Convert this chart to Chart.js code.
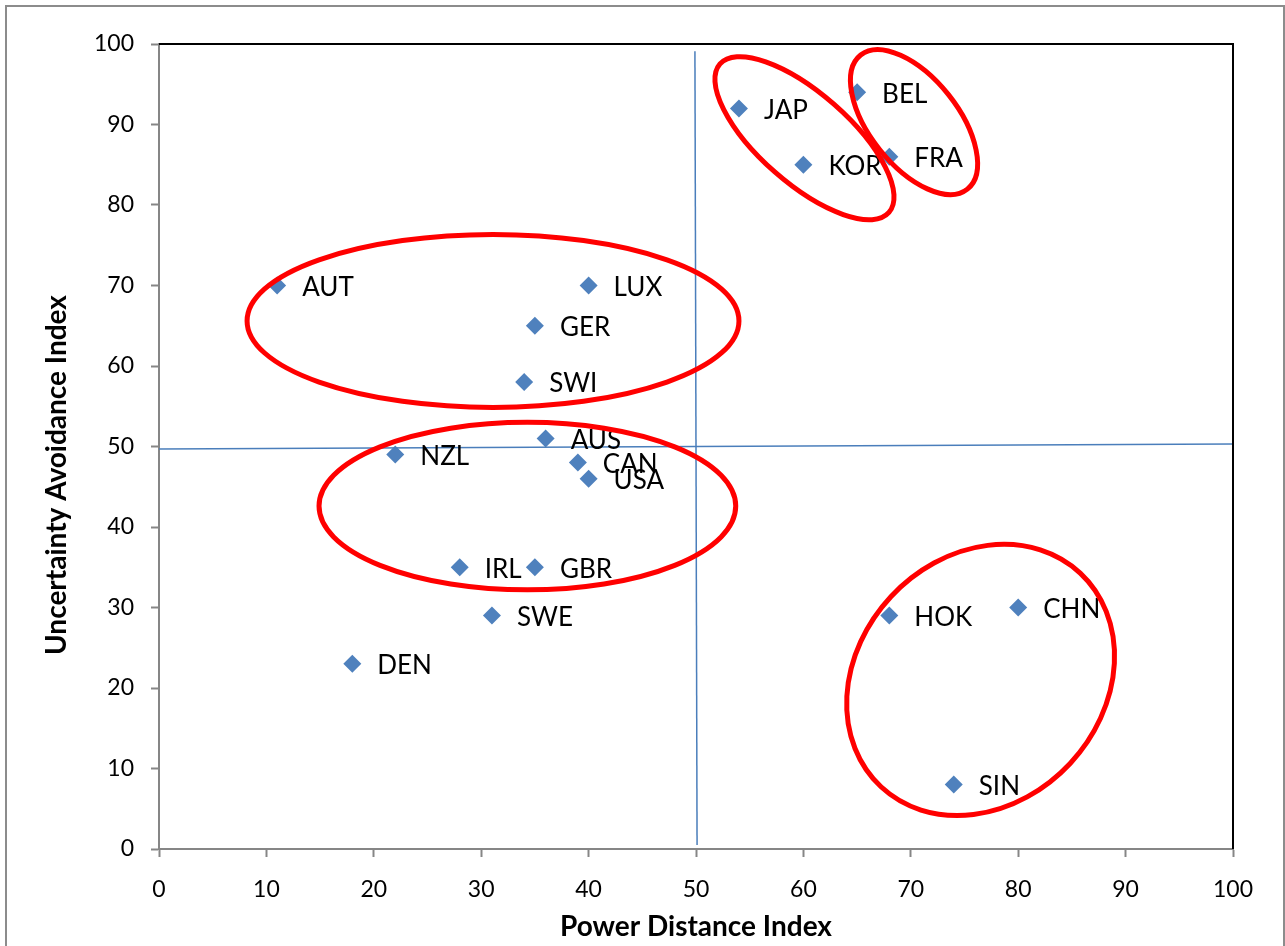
<!DOCTYPE html>
<html>
<head>
<meta charset="utf-8">
<script src="https://cdn.jsdelivr.net/npm/chart.js@4/dist/chart.umd.min.js"></script>
<style>
  html, body { margin: 0; padding: 0; background: #fff; }
  #wrap { width: 1285px; height: 946px; position: relative; }
</style>
</head>
<body>
<div id="wrap"><canvas id="chart"></canvas></div>
<script>
// Countries with Hofstede scores
const countries = ['AUT', 'LUX', 'GER', 'SWI', 'AUS', 'NZL', 'CAN', 'USA', 'IRL', 'GBR',
                   'SWE', 'DEN', 'JAP', 'KOR', 'BEL', 'FRA', 'HOK', 'CHN', 'SIN'];
const powerDistance = [11, 40, 35, 34, 36, 22, 39, 40, 28, 35, 31, 18, 54, 60, 65, 68, 68, 80, 74];
const uncertaintyAvoid = [70, 70, 65, 58, 51, 49, 48, 46, 35, 35, 29, 23, 92, 85, 94, 86, 29, 30, 8];

// Hand drawn divider lines (slightly off straight in the original)
const vLineX = [49.9, 50.1];
const vLineY = [99.1, 0.5];
const hLineX = [0, 100];
const hLineY = [49.7, 50.3];

// Axis ticks
const xTicks = [0, 10, 20, 30, 40, 50, 60, 70, 80, 90, 100];
const yTicks = [0, 10, 20, 30, 40, 50, 60, 70, 80, 90, 100];

// Red group circles: centre in data units, radii in x units, rotation in degrees
const groupCx = [31.1, 34.3, 60.1, 70.3, 76.5];
const groupCy = [65.6, 42.6, 88.3, 90.3, 21.0];
const groupA  = [22.9, 19.4, 10.47, 7.98, 13.6];
const groupB  = [8.05, 7.8, 4.19, 4.1, 11.4];
const groupRot = [0, 0, 41.3, 51.5, -47];

const FONT = 'Lato, "Open Sans", sans-serif';

// Frame, plot border, point labels, ellipses and the y title
const extras = {
  id: 'extras',
  beforeDraw(chart) {
    const ctx = chart.ctx;
    ctx.save();
    ctx.strokeStyle = '#8c8c8c';
    ctx.lineWidth = 2;
    ctx.strokeRect(6, 6, 1278, 960);
    ctx.restore();
  },
  afterDatasetsDraw(chart) {
    const ctx = chart.ctx;
    const a = chart.chartArea;
    const xs = chart.scales.x, ys = chart.scales.y;
    ctx.save();
    // top and right border of plot area
    ctx.strokeStyle = '#000';
    ctx.lineWidth = 2;
    ctx.beginPath();
    ctx.moveTo(a.left, a.top);
    ctx.lineTo(a.right, a.top);
    ctx.lineTo(a.right, a.bottom);
    ctx.stroke();

    // country labels to the right of each point
    const meta = chart.getDatasetMeta(2);
    ctx.fillStyle = '#000';
    ctx.font = '26px ' + FONT;
    ctx.textBaseline = 'middle';
    ctx.textAlign = 'left';
    meta.data.forEach((pt, i) => {
      ctx.fillText(countries[i], pt.x + 25, pt.y + 2);
    });

    // red ellipses
    const ppu = xs.getPixelForValue(1) - xs.getPixelForValue(0);
    ctx.strokeStyle = '#ff0000';
    ctx.lineWidth = 5;
    groupCx.forEach((cx, i) => {
      ctx.beginPath();
      ctx.ellipse(xs.getPixelForValue(cx), ys.getPixelForValue(groupCy[i]),
                  groupA[i] * ppu, groupB[i] * ppu, groupRot[i] * Math.PI / 180, 0, Math.PI * 2);
      ctx.stroke();
    });

    // y axis title
    ctx.font = 'bold 28px ' + FONT;
    ctx.textAlign = 'center';
    ctx.translate(57, 475);
    ctx.rotate(-Math.PI / 2);
    ctx.fillText('Uncertainty Avoidance Index', 0, 0);
    ctx.restore();
  }
};

new Chart(document.getElementById('chart'), {
  type: 'scatter',
  data: {
    datasets: [
      {
        label: 'v',
        data: vLineX.map((x, i) => ({ x, y: vLineY[i] })),
        showLine: true,
        borderColor: '#4a7ebb',
        borderWidth: 1.5,
        pointRadius: 0
      },
      {
        label: 'h',
        data: hLineX.map((x, i) => ({ x, y: hLineY[i] })),
        showLine: true,
        borderColor: '#4a7ebb',
        borderWidth: 1.5,
        pointRadius: 0
      },
      {
        label: 'Countries',
        data: powerDistance.map((x, i) => ({ x, y: uncertaintyAvoid[i] })),
        pointStyle: 'rectRot',
        pointRadius: 9,
        pointHoverRadius: 9,
        backgroundColor: '#4f81bd',
        borderColor: '#4f81bd',
        borderWidth: 0
      }
    ]
  },
  options: {
    responsive: true,
    maintainAspectRatio: false,
    animation: false,
    layout: { padding: { left: 0, top: 44, right: 52, bottom: 0 } },
    plugins: { legend: { display: false }, tooltip: { enabled: false } },
    scales: {
      x: {
        type: 'linear',
        min: 0, max: 100,
        afterBuildTicks: s => { s.ticks = xTicks.map(v => ({ value: v })); },
        afterFit: s => { s.height = 97; },
        grid: { drawOnChartArea: false, tickLength: 8, tickColor: '#868686', tickWidth: 2 },
        border: { color: '#868686', width: 2 },
        ticks: { color: '#000', font: { family: FONT, size: 23 }, padding: 19, maxRotation: 0 },
        title: {
          display: true,
          text: 'Power Distance Index',
          color: '#000',
          font: { family: FONT, size: 28, weight: 'bold' },
          padding: { top: 0, bottom: 2 }
        }
      },
      y: {
        type: 'linear',
        min: 0, max: 100,
        afterBuildTicks: s => { s.ticks = yTicks.map(v => ({ value: v })); },
        afterFit: s => { s.width = 159; },
        grid: { drawOnChartArea: false, tickLength: 8, tickColor: '#868686', tickWidth: 2 },
        border: { color: '#868686', width: 2 },
        ticks: { color: '#000', font: { family: FONT, size: 23 }, padding: 17 }
      }
    }
  },
  plugins: [extras]
});
</script>
</body>
</html>
